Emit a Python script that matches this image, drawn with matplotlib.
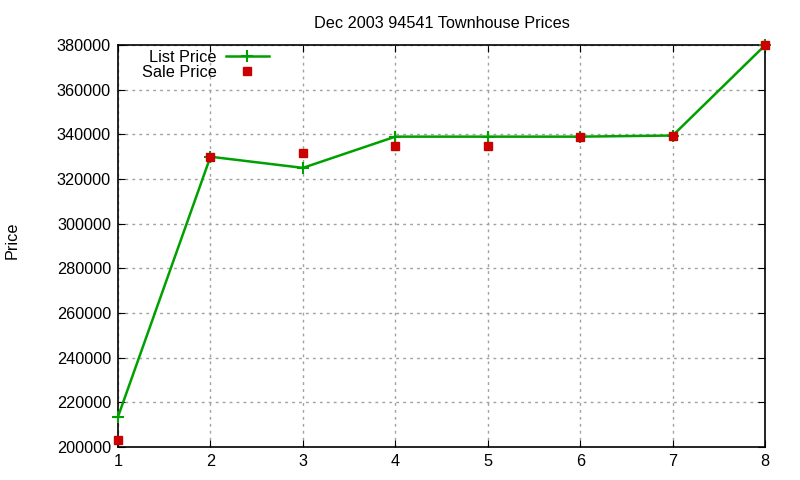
import matplotlib
matplotlib.use("Agg")
import matplotlib.pyplot as plt

x_vals = [1, 2, 3, 4, 5, 6, 7, 8]
list_price = [213500, 330000, 325000, 339000, 339000, 339000, 339500, 380000]
sale_price = [203000, 330000, 331500, 335000, 335000, 339000, 339500, 380000]
y_ticks = [200000, 220000, 240000, 260000, 280000, 300000, 320000, 340000, 360000, 380000]

plt.rcParams['font.family'] = ['Liberation Sans', 'DejaVu Sans']

fig = plt.figure(figsize=(8, 4.8), dpi=100)
ax = fig.add_axes([0.1475, 0.069, 0.809, 0.837])

ax.plot(x_vals, list_price, color='#00a000', lw=1.8, marker='+', ms=8, mew=1.5,
        label='List Price', zorder=3, clip_on=False)
ax.plot(x_vals, sale_price, ls='none', color='#cc0000', marker='s', ms=6,
        label='Sale Price', zorder=4, clip_on=False)

ax.set_xlim(1, 8)
ax.set_ylim(200000, 380000)
ax.set_xticks(x_vals)
ax.set_yticks(y_ticks)
ax.set_yticklabels([str(v) for v in y_ticks])
ax.grid(True, color='#a0a0a0', ls=(0, (2, 3)), lw=1)
ax.tick_params(direction='in', top=True, right=True, labelsize=11.7, length=5, pad=5)
for s in ax.spines.values():
    s.set_linewidth(1.2)

ax.set_title('Dec 2003 94541 Townhouse Prices', fontsize=11.7, pad=12)
fig.text(0.015, 0.5, 'Price', rotation=90, va='center', ha='center', fontsize=11.7)

leg = ax.legend(loc='upper left', bbox_to_anchor=(0.024, 1.009), frameon=False,
                markerfirst=False, fontsize=11.7, handlelength=2.6,
                handletextpad=0.6, borderaxespad=0.2, labelspacing=0.0, borderpad=0.3)
for t in leg.get_texts():
    t.set_ha('right')
leg.get_texts()[0].set_position((0, 0))

fig.savefig('out.png', dpi=100)
